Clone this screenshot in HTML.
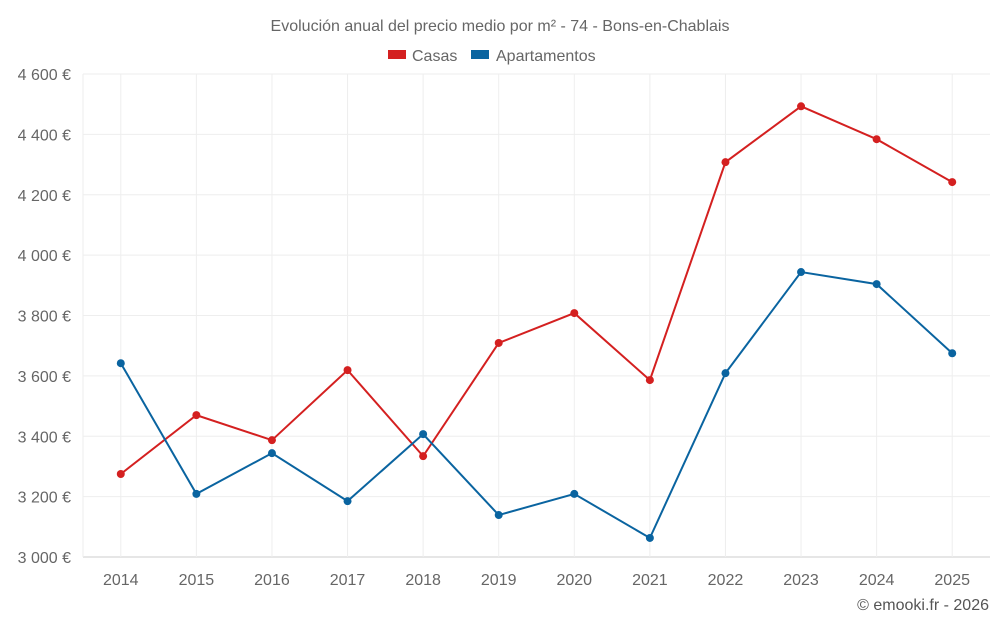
<!DOCTYPE html>
<html><head><meta charset="utf-8"><style>
body{margin:0;background:#fff;font-family:"Liberation Sans",sans-serif;}
svg text{font-family:"Liberation Sans",sans-serif;}
</style></head><body>
<svg width="1000" height="625">
<text x="500" y="31" text-anchor="middle" font-size="16" fill="#666">Evolución anual del precio medio por m² - 74 - Bons-en-Chablais</text>
<g>
<g><rect x="388" y="50" width="18" height="9" fill="#d42020"/><text x="412" y="61" font-size="16" fill="#666">Casas</text></g>
<g><rect x="471" y="50" width="18" height="9" fill="#0a64a0"/><text x="496" y="61" font-size="16" fill="#666">Apartamentos</text></g>
</g>
<g id="grid"></g><g id="axes"></g><g id="series"></g>
<text x="989" y="610" text-anchor="end" font-size="16" fill="#555">© emooki.fr - 2026</text>
</svg>
<script>
const years=[2014,2015,2016,2017,2018,2019,2020,2021,2022,2023,2024,2025];
const casas=[3275,3470,3387,3619,3334,3709,3808,3586,4308,4493,4384,4242];
const apartamentos=[3642,3209,3344,3185,3407,3139,3209,3063,3609,3944,3904,3675];
const yTicks=[3000,3200,3400,3600,3800,4000,4200,4400,4600];
const yTickLabels=["3 000 €","3 200 €","3 400 €","3 600 €","3 800 €","4 000 €","4 200 €","4 400 €","4 600 €"];
const NS="http://www.w3.org/2000/svg";
const L=83,R=990,T=74,B=557,yMin=3000,yMax=4600;
const step=(R-L)/years.length;
const x=i=>L+step*(i+0.5);
const y=v=>B-(v-yMin)/(yMax-yMin)*(B-T);
function mk(tag,attrs,parent){const e=document.createElementNS(NS,tag);for(const k in attrs)e.setAttribute(k,attrs[k]);document.getElementById(parent).appendChild(e);return e;}
yTicks.forEach((t,i)=>{
 const l=mk('line',{x1:L,x2:R,y1:y(t),y2:y(t),stroke:i==0?'#ccc':'#eee'},'grid');
 
 
 const tx=mk('text',{x:71,y:y(t)+6,'text-anchor':'end','font-size':16,fill:'#666'},'axes');
 tx.textContent=yTickLabels[i];
 
 
});
const edge=mk('line',{x1:L,x2:L,y1:T,y2:B,stroke:'#eee'},'grid');


years.forEach((yr,i)=>{
 const g=mk('line',{x1:x(i),x2:x(i),y1:T,y2:B,stroke:'#eee'},'grid');
 
 
 const tx=mk('text',{x:x(i),y:585,'text-anchor':'middle','font-size':16,fill:'#666'},'axes');
 tx.textContent=yr;
 
 
});
function series(vals,color,name){
 const p=mk('polyline',{points:vals.map((v,i)=>x(i)+','+y(v)).join(' '),fill:'none',stroke:color,'stroke-width':2},'series');
 
 
 vals.forEach((v,i)=>{
  const c=mk('circle',{cx:x(i),cy:y(v),r:4,fill:color},'series');
  
  
 });
}
series(casas,'#d42020','casas');
series(apartamentos,'#0a64a0','apartamentos');
</script>
</body></html>
